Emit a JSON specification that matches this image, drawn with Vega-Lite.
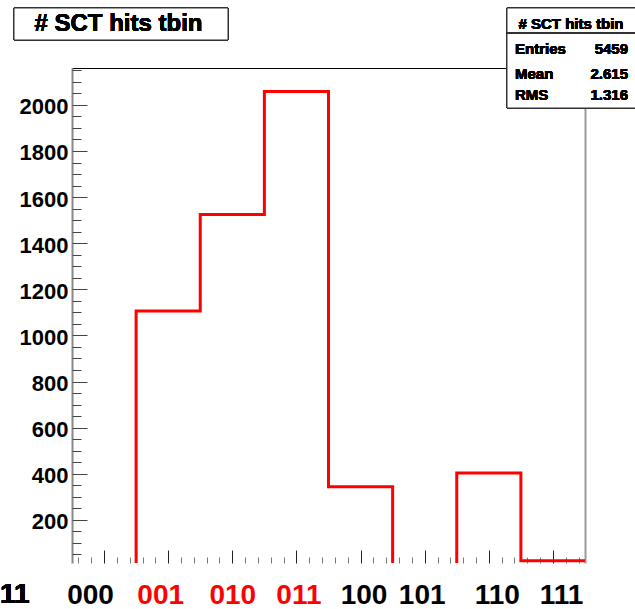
{
  "$schema": "https://vega.github.io/schema/vega-lite/v6.json",
  "width": 513,
  "height": 495,
  "autosize": {"type": "none"},
  "padding": {"left": 72, "top": 68, "right": 50, "bottom": 46},
  "background": "white",
  "config": {"view": {"stroke": null}, "font": "Liberation Sans"},
  "data": {"values": [
    {"edge": -0.5, "count": 0},
    {"edge": 0.5, "count": 1106},
    {"edge": 1.5, "count": 1525},
    {"edge": 2.5, "count": 2058},
    {"edge": 3.5, "count": 344},
    {"edge": 4.5, "count": 0},
    {"edge": 5.5, "count": 403},
    {"edge": 6.5, "count": 23},
    {"edge": 7.5, "count": 23}
  ]},
  "resolve": {"axis": {"x": "independent", "y": "independent"}},
  "layer": [
    {
      "mark": {"type": "line", "interpolate": "step-after", "color": "#ff0000", "strokeWidth": 3, "clip": true},
      "encoding": {
        "x": {"field": "edge", "type": "quantitative",
          "scale": {"domain": [-0.5, 7.5], "nice": false, "zero": false},
          "axis": {"orient": "bottom", "values": [0, 1, 2, 3, 4, 5, 6, 7], "ticks": false, "domain": false, "grid": false, "title": null,
            "labelExpr": "['000','001','010','011','100','101','110','111'][datum.value]",
            "labelFont": "Liberation Sans", "labelFontSize": 28, "labelFontWeight": "bold",
            "labelBaseline": "alphabetic", "labelPadding": 40, "labelFlush": false, "labelOverlap": false,
            "labelColor": {"condition": {"test": "datum.value >= 1 && datum.value <= 3", "value": "#ff0000"}, "value": "#000000"},
            "labelOffset": {"expr": "[-14,-8,0,2,3,-3,8,8][datum.value]"}}},
        "y": {"field": "count", "type": "quantitative",
          "scale": {"domain": [13, 2160], "nice": false, "zero": false},
          "axis": {"orient": "left", "values": [200, 400, 600, 800, 1000, 1200, 1400, 1600, 1800, 2000],
            "ticks": false, "domain": true, "domainColor": "#888888", "domainWidth": 2, "grid": false, "title": null,
            "format": "d", "labelFont": "Liberation Sans", "labelFontSize": 22, "labelFontWeight": "bold",
            "labelPadding": 4, "labelBaseline": "middle", "labelOffset": 2, "labelColor": "#000000"}}
      }
    },
    {
      "mark": {"type": "line", "opacity": 0},
      "encoding": {
        "x": {"field": "edge", "type": "quantitative",
          "scale": {"domain": [-0.5, 7.5], "nice": false, "zero": false},
          "axis": {"orient": "bottom", "labels": false, "domain": false, "grid": false, "title": null, "ticks": true,
            "values": [-0.4, -0.2, 0, 0.2, 0.4, 0.6, 0.8, 1, 1.2, 1.4, 1.6, 1.8, 2, 2.2, 2.4, 2.6, 2.8, 3, 3.2, 3.4, 3.6, 3.8, 4, 4.2, 4.4, 4.6, 4.8, 5, 5.2, 5.4, 5.6, 5.8, 6, 6.2, 6.4, 6.6, 6.8, 7, 7.2, 7.4],
            "tickWidth": 1,
            "tickSize": {"condition": {"test": "datum.value % 1 === 0", "value": -13}, "value": -6},
            "tickColor": {"condition": {"test": "datum.value % 1 === 0", "value": "#222222"}, "value": "#777777"}}},
        "y": {"field": "count", "type": "quantitative",
          "scale": {"domain": [13, 2160], "nice": false, "zero": false},
          "axis": {"orient": "left", "labels": false, "domain": false, "grid": false, "title": null, "ticks": true,
            "values": [50, 100, 150, 200, 250, 300, 350, 400, 450, 500, 550, 600, 650, 700, 750, 800, 850, 900, 950, 1000, 1050, 1100, 1150, 1200, 1250, 1300, 1350, 1400, 1450, 1500, 1550, 1600, 1650, 1700, 1750, 1800, 1850, 1900, 1950, 2000, 2050, 2100, 2150],
            "tickWidth": 1,
            "tickSize": {"condition": {"test": "datum.value % 200 === 0", "value": -15}, "value": -9},
            "tickColor": "#444444"}}
      }
    },
    {
      "mark": {"type": "line", "opacity": 0},
      "encoding": {
        "x": {"field": "edge", "type": "quantitative",
          "scale": {"domain": [-0.5, 7.5], "nice": false, "zero": false},
          "axis": {"orient": "top", "labels": false, "ticks": false, "grid": false, "title": null, "domain": true, "domainColor": "#000000", "domainWidth": 1}},
        "y": {"field": "count", "type": "quantitative",
          "scale": {"domain": [13, 2160], "nice": false, "zero": false},
          "axis": {"orient": "right", "labels": false, "ticks": false, "grid": false, "title": null, "domain": true, "domainColor": "#999999", "domainWidth": 2}}
      }
    },
    {
      "mark": {"type": "rect", "fill": "white", "stroke": "#333333", "strokeWidth": 1},
      "encoding": {
        "x": {"datum": -1.4045, "type": "quantitative", "axis": null},
        "x2": {"datum": 1.9327},
        "y": {"datum": 2420.3, "type": "quantitative", "axis": null},
        "y2": {"datum": 2281.5}
      }
    },
    {
      "mark": {"type": "text", "font": "Liberation Sans", "fontSize": 24, "fontWeight": "bold", "align": "center", "baseline": "middle", "color": "#000000"},
      "encoding": {
        "x": {"datum": 0.225, "type": "quantitative", "axis": null},
        "y": {"datum": 2350.9, "type": "quantitative", "axis": null},
        "text": {"value": "# SCT hits tbin"}
      }
    },
    {
      "mark": {"type": "rect", "fill": "white", "stroke": "#333333", "strokeWidth": 1},
      "encoding": {
        "x": {"datum": 6.2836, "type": "quantitative", "axis": null},
        "x2": {"datum": 8.6},
        "y": {"datum": 2420.3, "type": "quantitative", "axis": null},
        "y2": {"datum": 1986.5}
      }
    },
    {
      "mark": {"type": "rule", "stroke": "#333333", "strokeWidth": 1},
      "encoding": {
        "x": {"datum": 6.2836, "type": "quantitative", "axis": null},
        "x2": {"datum": 8.6},
        "y": {"datum": 2311.8, "type": "quantitative", "axis": null}
      }
    },
    {
      "mark": {"type": "text", "font": "Liberation Sans", "fontSize": 15, "fontWeight": "bold", "align": "center", "baseline": "middle", "color": "#000000"},
      "encoding": {
        "x": {"datum": 7.2817, "type": "quantitative", "axis": null},
        "y": {"datum": 2350.9, "type": "quantitative", "axis": null},
        "text": {"value": "# SCT hits tbin"}
      }
    },
    {
      "mark": {"type": "text", "font": "Liberation Sans", "fontSize": 15, "fontWeight": "bold", "align": "left", "baseline": "middle", "color": "#000000"},
      "encoding": {
        "x": {"datum": 6.4084, "type": "quantitative", "axis": null},
        "y": {"datum": 2242.5, "type": "quantitative", "axis": null},
        "text": {"value": "Entries"}
      }
    },
    {
      "mark": {"type": "text", "font": "Liberation Sans", "fontSize": 15, "fontWeight": "bold", "align": "right", "baseline": "middle", "color": "#000000"},
      "encoding": {
        "x": {"datum": 8.1706, "type": "quantitative", "axis": null},
        "y": {"datum": 2242.5, "type": "quantitative", "axis": null},
        "text": {"value": "5459"}
      }
    },
    {
      "mark": {"type": "text", "font": "Liberation Sans", "fontSize": 15, "fontWeight": "bold", "align": "left", "baseline": "middle", "color": "#000000"},
      "encoding": {
        "x": {"datum": 6.4084, "type": "quantitative", "axis": null},
        "y": {"datum": 2134, "type": "quantitative", "axis": null},
        "text": {"value": "Mean"}
      }
    },
    {
      "mark": {"type": "text", "font": "Liberation Sans", "fontSize": 15, "fontWeight": "bold", "align": "right", "baseline": "middle", "color": "#000000"},
      "encoding": {
        "x": {"datum": 8.1706, "type": "quantitative", "axis": null},
        "y": {"datum": 2134, "type": "quantitative", "axis": null},
        "text": {"value": "2.615"}
      }
    },
    {
      "mark": {"type": "text", "font": "Liberation Sans", "fontSize": 15, "fontWeight": "bold", "align": "left", "baseline": "middle", "color": "#000000"},
      "encoding": {
        "x": {"datum": 6.4084, "type": "quantitative", "axis": null},
        "y": {"datum": 2042.9, "type": "quantitative", "axis": null},
        "text": {"value": "RMS"}
      }
    },
    {
      "mark": {"type": "text", "font": "Liberation Sans", "fontSize": 15, "fontWeight": "bold", "align": "right", "baseline": "middle", "color": "#000000"},
      "encoding": {
        "x": {"datum": 8.1706, "type": "quantitative", "axis": null},
        "y": {"datum": 2042.9, "type": "quantitative", "axis": null},
        "text": {"value": "1.316"}
      }
    },
    {
      "mark": {"type": "text", "font": "Liberation Sans", "fontSize": 28, "fontWeight": "bold", "align": "left", "baseline": "alphabetic", "color": "#000000"},
      "encoding": {
        "x": {"datum": -1.6228, "type": "quantitative", "axis": null},
        "y": {"datum": -160.5, "type": "quantitative", "axis": null},
        "text": {"value": "11"}
      }
    }
  ]
}
